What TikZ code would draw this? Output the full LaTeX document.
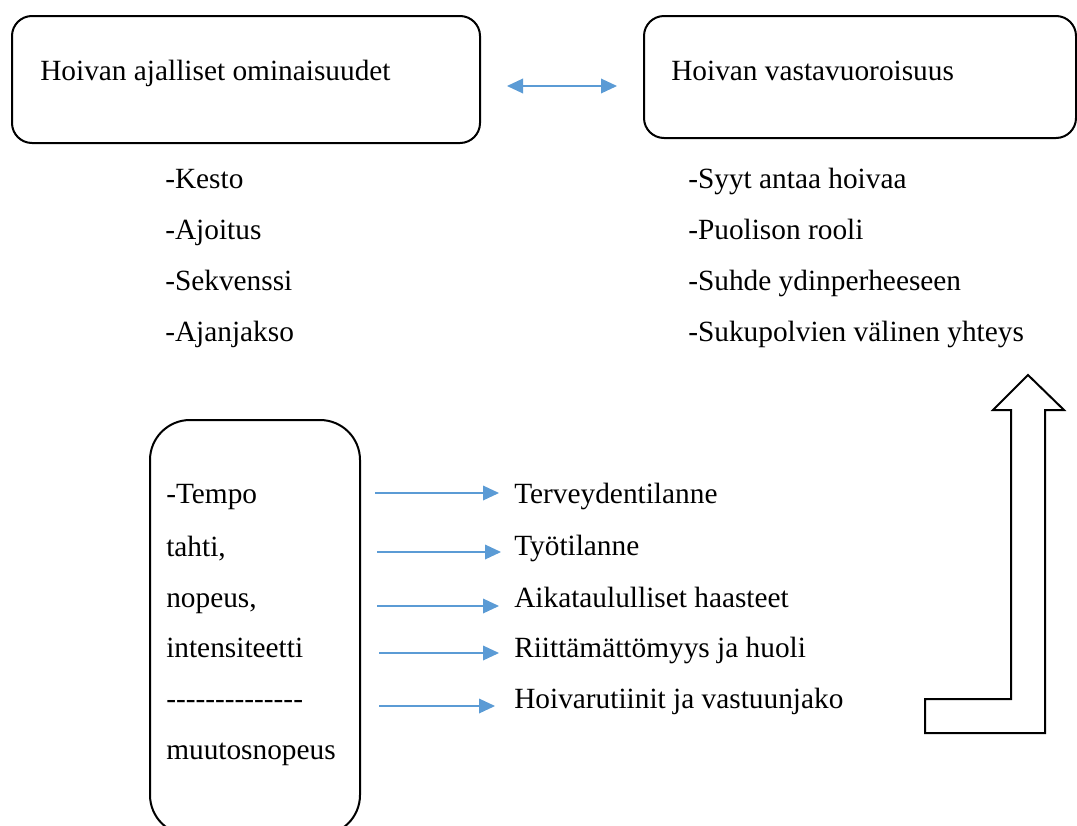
\documentclass[tikz,border=0pt]{standalone}
\usepackage{fontspec}
\setmainfont{Liberation Serif}
\usetikzlibrary{arrows.meta}
\definecolor{arrowblue}{HTML}{5B9BD5}
\newcommand{\hy}{\mbox{-}}
\begin{document}
\begin{tikzpicture}[x=0.75pt,y=-0.75pt,
  roundbox/.style={draw=black, line width=1.5pt, rounded corners=15pt, inner sep=0pt},
  txt/.style={anchor=base west, inner sep=0pt, font=\fontsize{22}{26}\selectfont},
  bluearrow/.style={draw=arrowblue, line width=1pt, -{Triangle[length=12pt,width=11pt]}},
  bigarrow/.style={draw=black, line width=1.5pt, fill=white, line join=miter}]
\useasboundingbox (0,0) rectangle (1077,825);
\clip (0,0) rectangle (1077,825);
% top boxes
\node[roundbox, minimum width=351pt, minimum height=95.25pt] (b1) at (246,79.5) {};
\node[roundbox, minimum width=324pt, minimum height=91.5pt] (b2) at (860,77) {};
\node[txt] (h1) at (40,80) {Hoivan ajalliset ominaisuudet};
\node[txt] (h2) at (671,80) {Hoivan vastavuoroisuus};
% double arrow
\coordinate (da1) at (507,86);
\coordinate (da2) at (617,86);
\draw[draw=arrowblue, line width=1pt, {Triangle[length=12pt,width=11pt]}-{Triangle[length=12pt,width=11pt]}] (da1) -- (da2);
% lists
\node[txt] (k1) at (165,188) {-Kesto};
\node[txt] (k2) at (165,239) {-Ajoitus};
\node[txt] (k3) at (165,290) {-Sekvenssi};
\node[txt] (k4) at (165,341) {-Ajanjakso};
\node[txt] (v1) at (688,188) {-Syyt antaa hoivaa};
\node[txt] (v2) at (688,239) {-Puolison rooli};
\node[txt] (v3) at (688,290) {-Suhde ydinperheeseen};
\node[txt] (v4) at (688,341) {-Sukupolvien välinen yhteys};
% bottom box
\node[roundbox, rounded corners=30pt, minimum width=157.5pt, minimum height=311.25pt] (b3) at (255,627.5) {};
\node[txt] (p1) at (166,503) {-Tempo};
\node[txt] (p2) at (166,556) {tahti,};
\node[txt] (p3) at (166,607) {nopeus,};
\node[txt] (p4) at (166,657) {intensiteetti};
\node[txt] (p5) at (166,708) {\hy\hy\hy\hy\hy\hy\hy\hy\hy\hy\hy\hy\hy\hy};
\node[txt] (p6) at (166,759) {muutosnopeus};
% labels
\node[txt] (l1) at (514,503) {Terveydentilanne};
\node[txt] (l2) at (514,555) {Työtilanne};
\node[txt] (l3) at (514,607) {Aikataululliset haasteet};
\node[txt] (l4) at (514,657) {Riittämättömyys ja huoli};
\node[txt] (l5) at (514,708) {Hoivarutiinit ja vastuunjako};
\coordinate (s1) at (375,493);
\coordinate (s2) at (377,552);
\coordinate (s3) at (377,606);
\coordinate (s4) at (379,653);
\coordinate (s5) at (379,706);
\draw[bluearrow, shorten >=11.25pt] (s1) -- (s1 -| l1.west);
\draw[bluearrow, shorten >=9.75pt] (s2) -- (s2 -| l2.west);
\draw[bluearrow, shorten >=11.25pt] (s3) -- (s3 -| l3.west);
\draw[bluearrow, shorten >=11.25pt] (s4) -- (s4 -| l4.west);
\draw[bluearrow, shorten >=14.25pt] (s5) -- (s5 -| l5.west);
% big bent arrow
\draw[bigarrow] (1028,375) -- (1064,410) -- (1045,410) -- (1045,733) -- (925,733) -- (925,699) -- (1011,699) -- (1011,410) -- (993,410) -- cycle;
\end{tikzpicture}
\end{document}
